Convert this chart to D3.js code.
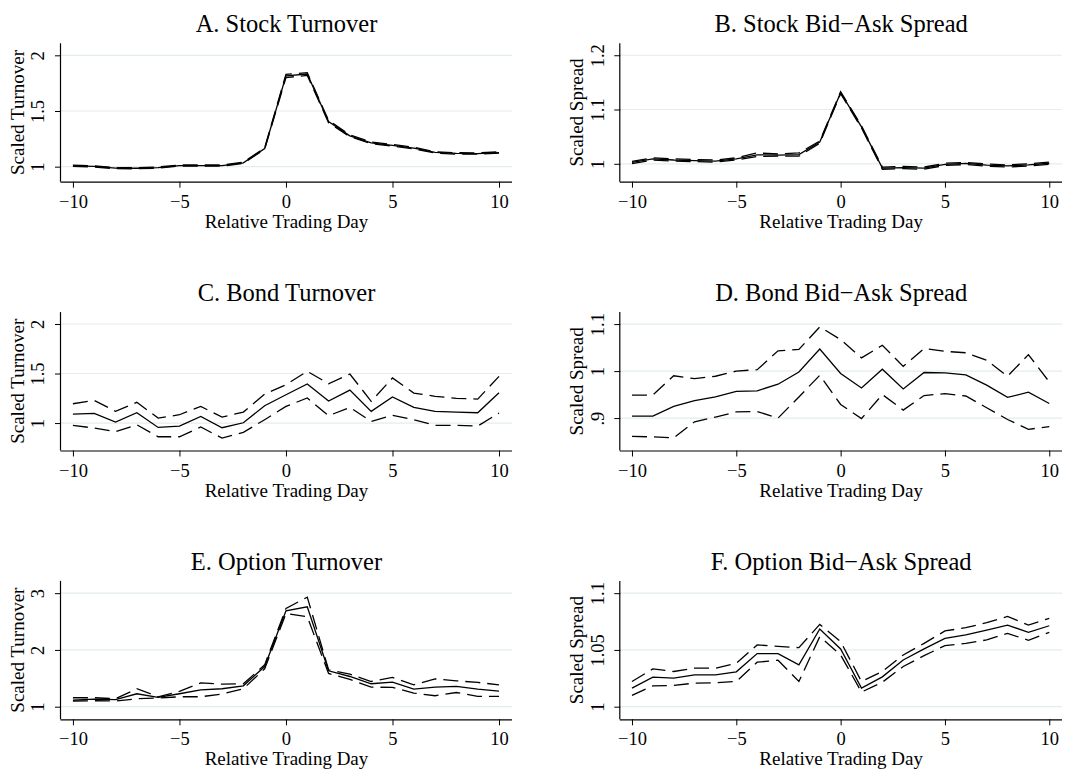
<!DOCTYPE html>
<html>
<head>
<meta charset="utf-8">
<script src="https://cdn.jsdelivr.net/npm/d3@7"></script>
<style>
  html, body { margin: 0; padding: 0; background: #fff; }
  svg { display: block; }
  text { font-family: "Liberation Serif", "Times New Roman", serif; fill: #000; }
</style>
</head>
<body>
<svg id="chart" width="1091" height="770"></svg>
<script>
// Relative trading days around the event
const days = d3.range(-10, 11);
const xTickValues = [-10, -5, 0, 5, 10];

// A. Stock turnover: mean and 95% band
const stockTurnMean  = [1.008, 1.002, 0.987, 0.986, 0.992, 1.010, 1.010, 1.010, 1.035, 1.163, 1.815, 1.832, 1.405, 1.277, 1.214, 1.192, 1.167, 1.128, 1.119, 1.118, 1.127];
const stockTurnUpper = [1.013, 1.007, 0.992, 0.991, 0.997, 1.015, 1.015, 1.015, 1.040, 1.169, 1.830, 1.844, 1.415, 1.285, 1.221, 1.199, 1.174, 1.134, 1.125, 1.124, 1.133];
const stockTurnLower = [1.003, 0.997, 0.982, 0.981, 0.987, 1.005, 1.005, 1.005, 1.030, 1.157, 1.800, 1.820, 1.395, 1.269, 1.207, 1.185, 1.160, 1.122, 1.113, 1.112, 1.121];

// B. Stock bid-ask spread
const stockSprMean  = [1.0025, 1.009, 1.007, 1.006, 1.005, 1.009, 1.0166, 1.016, 1.017, 1.040, 1.131, 1.068, 0.992, 0.993, 0.992, 0.999, 1.0006, 0.9975, 0.996, 0.998, 1.001];
const stockSprUpper = [1.0045, 1.011, 1.009, 1.008, 1.007, 1.011, 1.0200, 1.018, 1.020, 1.042, 1.133, 1.070, 0.994, 0.995, 0.994, 1.001, 1.0026, 0.9995, 0.998, 1.000, 1.003];
const stockSprLower = [1.0005, 1.007, 1.005, 1.004, 1.003, 1.007, 1.0135, 1.014, 1.014, 1.038, 1.129, 1.066, 0.990, 0.991, 0.990, 0.997, 0.9986, 0.9955, 0.994, 0.996, 0.999];

// C. Bond turnover
const bondTurnMean  = [1.091, 1.098, 1.010, 1.104, 0.956, 0.970, 1.067, 0.953, 1.003, 1.175, 1.286, 1.394, 1.222, 1.333, 1.118, 1.263, 1.158, 1.118, 1.111, 1.104, 1.306];
const bondTurnUpper = [1.195, 1.229, 1.118, 1.209, 1.050, 1.084, 1.168, 1.060, 1.111, 1.293, 1.387, 1.522, 1.397, 1.495, 1.219, 1.455, 1.303, 1.270, 1.249, 1.242, 1.471];
const bondTurnLower = [0.976, 0.950, 0.912, 0.983, 0.862, 0.862, 0.960, 0.848, 0.906, 1.034, 1.168, 1.253, 1.074, 1.158, 1.017, 1.077, 1.034, 0.976, 0.976, 0.970, 1.101];

// D. Bond bid-ask spread
const bondSprMean  = [0.904, 0.904, 0.925, 0.937, 0.945, 0.957, 0.958, 0.972, 0.998, 1.047, 0.995, 0.964, 1.004, 0.962, 0.997, 0.996, 0.992, 0.970, 0.944, 0.955, 0.931];
const bondSprUpper = [0.949, 0.949, 0.990, 0.984, 0.989, 1.000, 1.003, 1.043, 1.046, 1.094, 1.067, 1.028, 1.055, 1.010, 1.048, 1.042, 1.039, 1.023, 0.989, 1.035, 0.977];
const bondSprLower = [0.861, 0.860, 0.858, 0.892, 0.902, 0.913, 0.914, 0.900, 0.945, 0.991, 0.929, 0.899, 0.950, 0.917, 0.948, 0.952, 0.947, 0.922, 0.897, 0.876, 0.882];

// E. Option turnover
const optTurnMean  = [1.117, 1.135, 1.123, 1.228, 1.164, 1.228, 1.298, 1.316, 1.368, 1.708, 2.690, 2.760, 1.632, 1.532, 1.404, 1.433, 1.310, 1.345, 1.357, 1.310, 1.275];
const optTurnUpper = [1.158, 1.158, 1.140, 1.316, 1.175, 1.269, 1.420, 1.398, 1.404, 1.737, 2.730, 2.930, 1.650, 1.573, 1.444, 1.515, 1.386, 1.490, 1.456, 1.427, 1.386];
const optTurnLower = [1.100, 1.105, 1.100, 1.140, 1.152, 1.175, 1.175, 1.222, 1.316, 1.667, 2.640, 2.585, 1.585, 1.480, 1.345, 1.340, 1.240, 1.193, 1.250, 1.181, 1.181];

// F. Option bid-ask spread
const optSprMean  = [1.0164, 1.0260, 1.0251, 1.0280, 1.0280, 1.0307, 1.0468, 1.0468, 1.0368, 1.0684, 1.0509, 1.0164, 1.0263, 1.0412, 1.0509, 1.0602, 1.0632, 1.0675, 1.0719, 1.0655, 1.0713];
const optSprUpper = [1.0222, 1.0333, 1.0310, 1.0339, 1.0339, 1.0383, 1.0544, 1.0532, 1.0520, 1.0725, 1.0573, 1.0222, 1.0310, 1.0456, 1.0558, 1.0667, 1.0696, 1.0740, 1.0795, 1.0719, 1.0778];
const optSprLower = [1.0099, 1.0184, 1.0187, 1.0208, 1.0211, 1.0222, 1.0392, 1.0409, 1.0222, 1.0617, 1.0456, 1.0129, 1.0216, 1.0354, 1.0450, 1.0538, 1.0558, 1.0588, 1.0646, 1.0585, 1.0655];

// Y-axis tick values and their printed labels
const turnTicksAB   = [1, 1.5, 2];
const turnLabelsAB  = ["1", "1.5", "2"];
const sprTicksB     = [1, 1.1, 1.2];
const sprLabelsB    = ["1", "1.1", "1.2"];
const sprTicksD     = [0.9, 1, 1.1];
const sprLabelsD    = [".9", "1", "1.1"];
const turnTicksE    = [1, 2, 3];
const turnLabelsE   = ["1", "2", "3"];
const sprTicksF     = [1, 1.05, 1.1];
const sprLabelsF    = ["1", "1.05", "1.1"];

const panels = [
  { title: "A. Stock Turnover",      ytitle: "Scaled Turnover", col: 0, row: 0, yDomain: [0.865, 2.108],  ticks: turnTicksAB, labels: turnLabelsAB, mean: stockTurnMean, upper: stockTurnUpper, lower: stockTurnLower },
  { title: "B. Stock Bid\u2212Ask Spread", ytitle: "Scaled Spread", col: 1, row: 0, yDomain: [0.967, 1.222], ticks: sprTicksB, labels: sprLabelsB, mean: stockSprMean, upper: stockSprUpper, lower: stockSprLower },
  { title: "C. Bond Turnover",       ytitle: "Scaled Turnover", col: 0, row: 1, yDomain: [0.723, 2.12],   ticks: turnTicksAB, labels: turnLabelsAB, mean: bondTurnMean, upper: bondTurnUpper, lower: bondTurnLower },
  { title: "D. Bond Bid\u2212Ask Spread",  ytitle: "Scaled Spread", col: 1, row: 1, yDomain: [0.831, 1.1255], ticks: sprTicksD, labels: sprLabelsD, mean: bondSprMean, upper: bondSprUpper, lower: bondSprLower },
  { title: "E. Option Turnover",     ytitle: "Scaled Turnover", col: 0, row: 2, yDomain: [0.778, 3.216],  ticks: turnTicksE, labels: turnLabelsE, mean: optTurnMean, upper: optTurnUpper, lower: optTurnLower },
  { title: "F. Option Bid\u2212Ask Spread", ytitle: "Scaled Spread", col: 1, row: 2, yDomain: [0.9889, 1.1108], ticks: sprTicksF, labels: sprLabelsF, mean: optSprMean, upper: optSprUpper, lower: optSprLower }
];

// Layout of the plot regions
const colLeft  = [61, 620.3];
const colRight = [512, 1062];
const rowTop0 = 43.3, rowBottom0 = 181.7, rowStep = 268.8;
const xDomain = [-10.56, 10.61];

const svg = d3.select("#chart");
const fmtX = d => (d < 0 ? "\u2212" + Math.abs(d) : String(d));

panels.forEach(p => {
  const left = colLeft[p.col], right = colRight[p.col];
  const top = rowTop0 + rowStep * p.row, bottom = rowBottom0 + rowStep * p.row;
  const x = d3.scaleLinear().domain(xDomain).range([left, right]);
  const y = d3.scaleLinear().domain(p.yDomain).range([bottom, top]);
  const g = svg.append("g");

  // grid lines
  g.selectAll("line.grid").data(p.ticks).enter().append("line")
    .attr("x1", left).attr("x2", right)
    .attr("y1", d => y(d)).attr("y2", d => y(d))
    .attr("stroke", "#e3ecee").attr("stroke-width", 1.2);

  // y axis
  const yAxis = d3.axisLeft(y).tickValues(p.ticks).tickSize(6)
    .tickFormat((d, i) => p.labels[i]);
  const ya = g.append("g").attr("transform", `translate(${left},0)`).call(yAxis);
  ya.select(".domain").attr("d", `M-0.5,${top}V${bottom}`).attr("stroke", "#000").attr("stroke-width", 1.2);
  ya.selectAll(".tick line").attr("stroke", "#000").attr("stroke-width", 1);
  ya.selectAll(".tick text")
    .attr("x", null).attr("dy", null)
    .attr("transform", "translate(-16.7,0) rotate(-90)")
    .attr("text-anchor", "middle")
    .style("font-family", '"Liberation Serif", serif')
    .style("font-size", "18.5px");

  // x axis
  const xAxis = d3.axisBottom(x).tickValues(xTickValues).tickSize(6).tickFormat(fmtX);
  const xa = g.append("g").attr("transform", `translate(0,${bottom})`).call(xAxis);
  xa.select(".domain").attr("d", `M${left - 0.5},0.5H${right}`).attr("stroke", "#000").attr("stroke-width", 1.2);
  xa.selectAll(".tick line").attr("stroke", "#000").attr("stroke-width", 1);
  xa.selectAll(".tick text")
    .attr("y", 26).attr("dy", null)
    .style("font-family", '"Liberation Serif", serif')
    .style("font-size", "18.5px");

  // series lines: dashed band first, solid mean on top
  const line = d3.line().x((d, i) => x(days[i])).y(d => y(d));
  [["lower", true], ["upper", true], ["mean", false]].forEach(([key, dashed]) => {
    g.append("path")
      .attr("d", line(p[key]))
      .attr("fill", "none")
      .attr("stroke", "#000")
      .attr("stroke-width", 1.3)
      .attr("stroke-linejoin", "miter")
      .attr("stroke-dasharray", dashed ? "15,7" : null);
  });

  // titles
  g.append("text")
    .attr("x", (left + right) / 2).attr("y", top - 11.3)
    .attr("text-anchor", "middle")
    .style("font-size", "24.5px")
    .text(p.title);
  g.append("text")
    .attr("x", (left + right) / 2).attr("y", bottom + 46)
    .attr("text-anchor", "middle")
    .style("font-size", "19px")
    .text("Relative Trading Day");
  g.append("text")
    .attr("transform", `translate(${left - 37},${(top + bottom) / 2}) rotate(-90)`)
    .attr("text-anchor", "middle")
    .style("font-size", "19px")
    .text(p.ytitle);
});
</script>
</body>
</html>
